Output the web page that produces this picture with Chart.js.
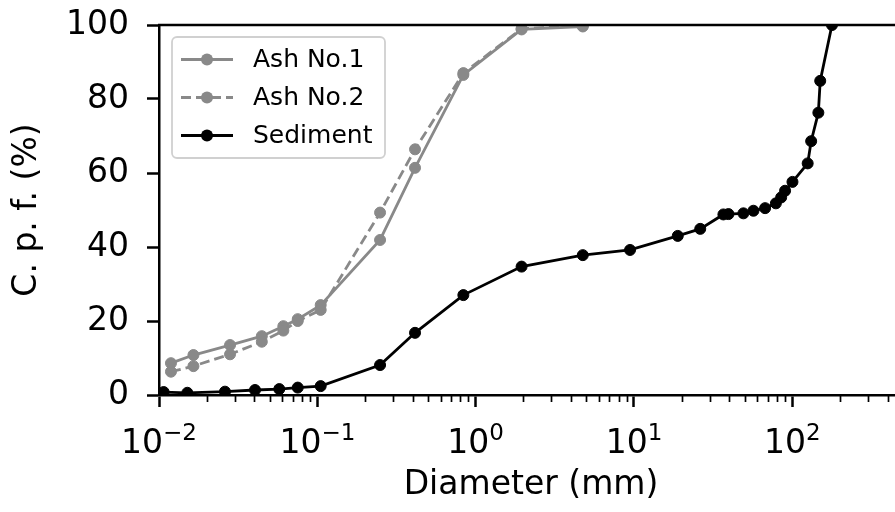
<!DOCTYPE html>
<html><head><meta charset="utf-8">
<script src="https://cdn.jsdelivr.net/npm/chart.js@4"></script>
<style>
html,body{margin:0;padding:0;background:#fff;overflow:hidden;}
#wrap{width:895px;height:512px;overflow:hidden;position:relative;background:#fff;}
#c{display:block;}
</style></head><body>
<div id="wrap"><canvas id="c" width="912" height="512"></canvas></div>
<script>
// ---- data ----
const seriesNames = ['Ash No.1', 'Ash No.2', 'Sediment'];
const ashDiameter = [0.0119, 0.0165, 0.0281, 0.0446, 0.061, 0.0752, 0.105, 0.249, 0.414, 0.836, 1.95, 4.75];
const ash1Cpf = [8.6, 10.8, 13.5, 15.9, 18.6, 20.5, 24.3, 41.9, 61.4, 86.5, 98.8, 99.6];
const ash2Cpf = [6.3, 7.8, 11.0, 14.4, 17.4, 20.0, 23.0, 49.3, 66.4, 87.0, 99.0, 99.8];
const sedDiameter = [0.0107, 0.0151, 0.0261, 0.0404, 0.0575, 0.0752, 0.105, 0.249, 0.414, 0.836, 1.95, 4.75, 9.44,
  18.9, 26.2, 36.7, 39.5, 49.1, 56.8, 67.3, 78.7, 85, 90, 100.2, 125, 131.5, 146, 150, 178];
const sedCpf = [0.8, 0.6, 0.9, 1.35, 1.6, 2.0, 2.4, 8.1, 16.8, 27.0, 34.7, 37.8, 39.2,
  43.0, 44.9, 48.8, 48.9, 49.1, 49.8, 50.5, 51.8, 53.4, 55.2, 57.6, 62.6, 68.6, 76.3, 84.9, 100];
const xTickExponents = [-2, -1, 0, 1, 2];
const yTicks = [0, 20, 40, 60, 80, 100];
const xLabel = 'Diameter (mm)';
const yLabel = 'C. p. f. (%)';

const GREY = '#898989';
const FONT = '"DejaVu Sans", sans-serif';

function pts(xs, ys) { return xs.map((v, i) => ({x: v, y: ys[i]})); }

const styles = [
  {color: GREY, dash: []},
  {color: GREY, dash: [10, 5]},
  {color: '#000', dash: []}
];

const overlay = {
  id: 'overlay',
  afterDraw(chart) {
    const {ctx, chartArea: a, scales: {x}} = chart;
    ctx.save();
    // top & right spines
    ctx.strokeStyle = '#000';
    ctx.lineWidth = 2.5;
    ctx.beginPath();
    ctx.moveTo(a.left - 1, a.top); ctx.lineTo(a.right, a.top);
    ctx.lineTo(a.right, a.bottom);
    ctx.stroke();
    // minor ticks
    ctx.lineWidth = 1.7;
    ctx.beginPath();
    for (const e of xTickExponents) {
      for (let k = 2; k <= 9; k++) {
        const v = k * Math.pow(10, e);
        if (v > x.max) break;
        const px = Math.round(x.getPixelForValue(v)) + 0.5;
        ctx.moveTo(px, a.bottom); ctx.lineTo(px, a.bottom + 7);
      }
    }
    ctx.stroke();
    // x tick labels with superscript exponent
    ctx.fillStyle = '#000';
    ctx.textBaseline = 'alphabetic';
    ctx.textAlign = 'left';
    for (const e of xTickExponents) {
      const px = x.getPixelForValue(Math.pow(10, e));
      const base = '10';
      const sup = (e < 0 ? '\u2212' : '') + Math.abs(e);
      ctx.font = '33px ' + FONT; const wb = ctx.measureText(base).width;
      ctx.font = '23px ' + FONT; const ws = ctx.measureText(sup).width;
      const left = px - (wb + ws) / 2;
      ctx.font = '33px ' + FONT; ctx.fillText(base, left, a.bottom + 58);
      ctx.font = '23px ' + FONT; ctx.fillText(sup, left + wb, a.bottom + 45);
    }
    // legend
    const bx = 172, by = 37, bw = 213, bh = 121, r = 5;
    ctx.beginPath();
    ctx.moveTo(bx + r, by);
    ctx.arcTo(bx + bw, by, bx + bw, by + bh, r);
    ctx.arcTo(bx + bw, by + bh, bx, by + bh, r);
    ctx.arcTo(bx, by + bh, bx, by, r);
    ctx.arcTo(bx, by, bx + bw, by, r);
    ctx.closePath();
    ctx.fillStyle = 'rgba(255,255,255,0.85)';
    ctx.fill();
    ctx.strokeStyle = '#d0d0d0';
    ctx.lineWidth = 1.8;
    ctx.stroke();
    const rows = [59.5, 97.5, 135.5];
    seriesNames.forEach((name, i) => {
      const st = styles[i], y = rows[i];
      ctx.strokeStyle = st.color; ctx.lineWidth = 2.8;
      ctx.setLineDash(st.dash);
      ctx.beginPath(); ctx.moveTo(181, y); ctx.lineTo(233, y); ctx.stroke();
      ctx.setLineDash([]);
      ctx.fillStyle = st.color;
      ctx.beginPath(); ctx.arc(207, y, 6, 0, Math.PI * 2); ctx.fill();
      ctx.fillStyle = '#000';
      ctx.font = '25px ' + FONT;
      ctx.textBaseline = 'middle';
      ctx.fillText(name, 253, y + 1);
    });
    ctx.restore();
  }
};

const datasets = [ashDiameter, ashDiameter, sedDiameter].map((xs, i) => {
  const ys = [ash1Cpf, ash2Cpf, sedCpf][i];
  const st = styles[i];
  return {
    label: seriesNames[i],
    data: pts(xs, ys),
    borderColor: st.color,
    backgroundColor: st.color,
    borderWidth: 2.8,
    borderDash: st.dash,
    pointRadius: 5.5,
    pointBorderWidth: 1,
    pointBackgroundColor: st.color,
    pointBorderColor: st.color,
    pointHoverRadius: 5.5,
    tension: 0,
    fill: false,
    clip: 0,
    order: 3 - i
  };
});

new Chart(document.getElementById('c'), {
  type: 'line',
  data: {datasets},
  options: {
    responsive: false,
    animation: false,
    events: [],
    layout: {autoPadding: false, padding: {left: 0, top: 25, right: 9, bottom: 0}},
    plugins: {legend: {display: false}, tooltip: {enabled: false}},
    scales: {
      x: {
        type: 'logarithmic',
        position: 'bottom',
        min: 0.01,
        max: 500,
        z: 1,
        afterBuildTicks: (s) => { s.ticks = xTickExponents.map(e => ({value: Math.pow(10, e), major: true})); },
        afterFit: (s) => { s.height = 117; },
        ticks: {display: false, autoSkip: false},
        grid: {display: true, drawOnChartArea: false, drawTicks: true, tickLength: 12, tickWidth: 2.5, tickColor: '#000'},
        border: {display: true, color: '#000', width: 2.5},
        title: {display: true, text: xLabel, color: '#000', font: {family: FONT, size: 33}, padding: {top: 0, bottom: 7}}
      },
      y: {
        type: 'linear',
        position: 'left',
        min: 0,
        max: 100,
        z: 1,
        afterBuildTicks: (s) => { s.ticks = yTicks.map(v => ({value: v})); },
        afterFit: (s) => { s.width = 159; s.paddingTop = 0; s.paddingBottom = 0; },
        ticks: {autoSkip: false, color: '#000', font: {family: FONT, size: 33, lineHeight: 0.2}, padding: 18},
        grid: {display: true, drawOnChartArea: false, drawTicks: true, tickLength: 12, tickWidth: 2.5, tickColor: '#000'},
        border: {display: true, color: '#000', width: 2.5},
        title: {display: true, text: yLabel, color: '#000', font: {family: FONT, size: 33}, padding: {top: 8, bottom: 0}}
      }
    }
  },
  plugins: [overlay]
});
</script>
</body></html>
